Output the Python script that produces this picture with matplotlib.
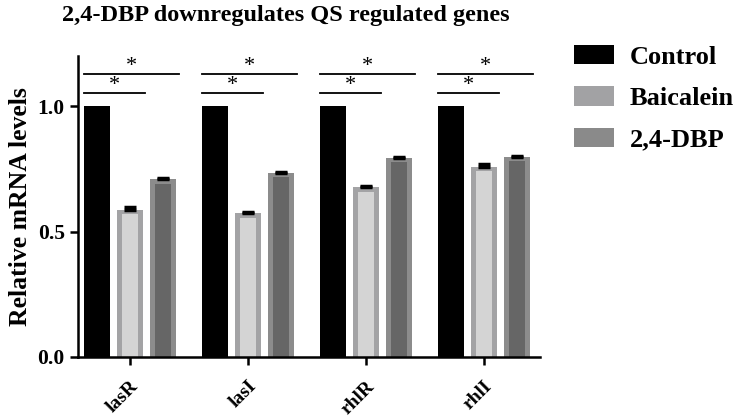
import matplotlib
matplotlib.use("Agg")
import matplotlib.pyplot as plt
import matplotlib.transforms as mtransforms
import numpy as np
from matplotlib.patches import Patch

genes = ["lasR", "lasI", "rhlR", "rhlI"]
series = ["Control", "Baicalein", "2,4-DBP"]
control = [1.0, 1.0, 1.0, 1.0]
baicalein = [0.588, 0.574, 0.676, 0.758]
dbp = [0.708, 0.735, 0.795, 0.799]
baicalein_err = [0.010, 0.006, 0.007, 0.012]
dbp_err = [0.005, 0.003, 0.004, 0.004]
sig_short = 1.052
sig_long = 1.13

plt.rcParams['font.family'] = ['Liberation Serif']
plt.rcParams['font.weight'] = 'bold'

fig = plt.figure(figsize=(7.39, 4.18), dpi=100)
ax = fig.add_axes([0.1055, 0.146, 0.625, 0.72])

x = np.arange(len(genes))
w = 0.218
w_in = 0.135
off = 0.28
border = 0.018
ax.bar(x - off, control, width=w, color='black', linewidth=0, zorder=2)
ax.bar(x, baicalein, width=w, color='#a3a3a5', linewidth=0, zorder=2)
ax.bar(x, np.array(baicalein) - border, width=w_in, color='#d4d4d4', linewidth=0, zorder=2)
ax.bar(x + off, dbp, width=w, color='#8c8c8c', linewidth=0, zorder=2)
ax.bar(x + off, np.array(dbp) - border, width=w_in, color='#666666', linewidth=0, zorder=2)
ax.errorbar(x, baicalein, yerr=[np.zeros(4), baicalein_err], fmt='none', ecolor='black',
            elinewidth=2, capsize=4, capthick=2.5, zorder=3)
ax.errorbar(x + off, dbp, yerr=[np.zeros(4), dbp_err], fmt='none', ecolor='black',
            elinewidth=2, capsize=4, capthick=2.5, zorder=3)

for xi in x:
    x0 = xi - off - w / 2
    x1s = xi + w / 2 + 0.02
    x1l = xi + off + w / 2 + 0.03
    ax.plot([x0, x1s], [sig_short, sig_short], color='black', lw=1.3)
    ax.plot([x0, x1l], [sig_long, sig_long], color='black', lw=1.3)
    ax.text((x0 + x1s) / 2, sig_short - 0.008, '*', ha='center', va='bottom', fontsize=16, fontweight='normal')
    ax.text((x0 + x1l) / 2, sig_long - 0.008, '*', ha='center', va='bottom', fontsize=16, fontweight='normal')

ax.set_xlim(-0.44, 3.475)
ax.set_ylim(0, 1.2)
ax.set_yticks([0.0, 0.5, 1.0])
ax.set_yticklabels(['0.0', '0.5', '1.0'], fontsize=15.5, fontweight='bold')
ax.set_xticks(x)
ax.set_xticklabels(genes, rotation=45, ha='right', va='top', rotation_mode='anchor',
                   fontsize=14, fontweight='bold')
shift = mtransforms.ScaledTranslation(6 / 100, 0, fig.dpi_scale_trans)
for lab in ax.get_xticklabels():
    lab.set_transform(lab.get_transform() + shift)
ax.set_ylabel('Relative mRNA levels', fontsize=18.5, fontweight='bold', labelpad=4)
for s in ['top', 'right']:
    ax.spines[s].set_visible(False)
for s in ['left', 'bottom']:
    ax.spines[s].set_linewidth(1.8)
ax.tick_params(axis='both', width=1.8, length=6)
ax.tick_params(axis='x', pad=9)

fig.text(0.387, 0.962, '2,4-DBP downregulates QS regulated genes', ha='center', va='center',
         fontsize=17.5, fontweight='bold')

handles = [Patch(facecolor='black', edgecolor='none'),
           Patch(facecolor='#a2a2a4', edgecolor='none'),
           Patch(facecolor='#8a8a8a', edgecolor='none')]
fig.legend(handles, series, loc='upper left', bbox_to_anchor=(0.770, 0.905), frameon=False,
           prop={'size': 19, 'weight': 'bold'}, handlelength=1.5, handleheight=0.75,
           labelspacing=0.66, handletextpad=0.6, borderaxespad=0, borderpad=0.2)

fig.savefig('out.png', dpi=100)
